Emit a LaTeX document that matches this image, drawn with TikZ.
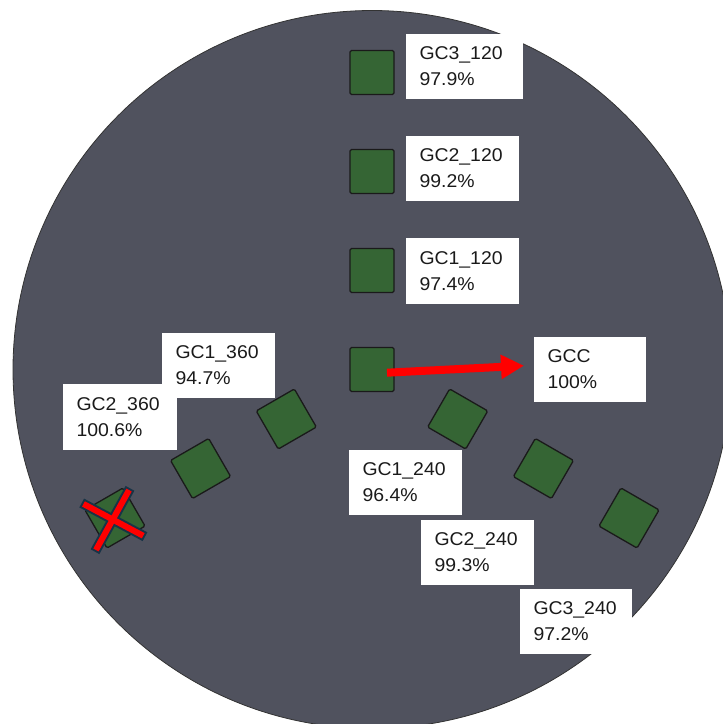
\documentclass[tikz,border=0pt]{standalone}
\usepackage{fontspec}
\setmainfont{Liberation Sans}[FakeStretch=1.05]
\usetikzlibrary{arrows.meta}
\definecolor{wafer}{HTML}{50525E}
\definecolor{die}{HTML}{356534}
\definecolor{dieedge}{HTML}{1A1A1A}
\definecolor{xedge}{HTML}{183447}
\definecolor{txt}{HTML}{1A1A1A}
\begin{document}
\begin{tikzpicture}[x=1pt,y=-1pt,
  diebox/.style={draw=dieedge, fill=die, line width=1.3pt, rounded corners=1.5pt,
    minimum size=44pt, inner sep=0pt},
  lbl/.style={fill=white, inner xsep=13.5pt, inner ysep=0pt, align=left,
    font=\fontsize{18.5}{26}\selectfont, text=txt},
  redarrow/.style={draw=red, line width=8pt, -{Triangle[length=23pt,width=23pt]}},
  xout/.style={draw=xedge, line width=10pt},
  xin/.style={draw=red, line width=6pt, shorten <=2pt, shorten >=2pt}]
\useasboundingbox (0,0) rectangle (723,724);
% wafer
\filldraw[fill=wafer, draw=black!80, line width=0.8pt] (372,369.5) circle[radius=359pt];
% dies
\node[diebox] (gcc) at (372,369.5) {};
\node[diebox] (a1) at (372,270.5) {};
\node[diebox] (a2) at (372,171.5) {};
\node[diebox] (a3) at (372,72.5) {};
\node[diebox, rotate=-30] (b1) at (457.7,419) {};
\node[diebox, rotate=-30] (b2) at (543.4,468.5) {};
\node[diebox, rotate=-30] (b3) at (629,518) {};
\node[diebox, rotate=30] (c1) at (286.3,419) {};
\node[diebox, rotate=30] (c2) at (200.6,468.5) {};
\node[diebox, rotate=30] (c3) at (115,518) {};
% labels
\node[lbl, text width=90pt, minimum height=65pt] (la3) at (464.5,66.5) {GC3\_120\\97.9\%};
\node[lbl, text width=86pt, minimum height=65pt] (la2) at (462.5,168.5) {GC2\_120\\99.2\%};
\node[lbl, text width=86pt, minimum height=66pt] (la1) at (462.5,271) {GC1\_120\\97.4\%};
\node[lbl, text width=85pt, minimum height=65pt] (lgcc) at (590,369.5) {GCC\\100\%};
\node[lbl, text width=86pt, minimum height=65pt] (lc1) at (218.5,365.5) {GC1\_360\\94.7\%};
\node[lbl, text width=87pt, minimum height=66pt] (lc2) at (120,417) {GC2\_360\\100.6\%};
\node[lbl, text width=86pt, minimum height=65pt] (lb1) at (405.5,482.5) {GC1\_240\\96.4\%};
\node[lbl, text width=86pt, minimum height=65pt] (lb2) at (477.5,552.5) {GC2\_240\\99.3\%};
\node[lbl, text width=85pt, minimum height=65pt] (lb3) at (576,621.5) {GC3\_240\\97.2\%};
% arrow
\coordinate (as) at (387,372.7);
\coordinate (ae) at (524,365.7);
\draw[redarrow] (as) -- (ae);
% cross
\coordinate (x1a) at (81.7,503);
\coordinate (x1b) at (145,536.7);
\coordinate (x2a) at (130,488.3);
\coordinate (x2b) at (95,551.7);
\draw[xout] (x1a) -- (x1b);
\draw[xout] (x2a) -- (x2b);
\draw[xin] (x1a) -- (x1b);
\draw[xin] (x2a) -- (x2b);
\end{tikzpicture}
\end{document}
